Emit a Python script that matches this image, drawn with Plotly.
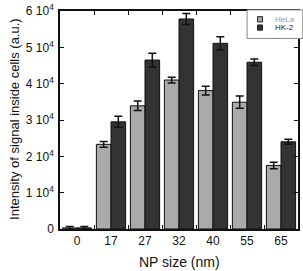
import plotly.graph_objects as go

categories = ["0", "17", "27", "32", "40", "55", "65"]
hela = [300, 23300, 33900, 41000, 38100, 34900, 17500]
hela_err = [400, 800, 1300, 800, 1200, 1700, 900]
hk2 = [300, 29500, 46500, 57800, 51100, 45900, 24000]
hk2_err = [400, 1500, 1900, 1500, 1800, 900, 700]
ytick_vals = [0, 10000, 20000, 30000, 40000, 50000, 60000]
ytick_text = ["0", "1 10<sup>4</sup>", "2 10<sup>4</sup>", "3 10<sup>4</sup>",
              "4 10<sup>4</sup>", "5 10<sup>4</sup>", "6 10<sup>4</sup>"]
series_names = ["HeLa", "HK-2"]
series_colors = ["#aaaaaa", "#333333"]
legend_text_colors = ["#999999", "#222222"]
x_title = "NP size (nm)"
y_title = "Intensity of signal inside cells (a.u.)"

fig = go.Figure()
fig.add_trace(go.Bar(
    x=categories, y=hela, name=series_names[0],
    marker=dict(color=series_colors[0], line=dict(color="#111111", width=1)),
    error_y=dict(type="data", array=hela_err, color="#111111", thickness=1.5, width=4),
))
fig.add_trace(go.Bar(
    x=categories, y=hk2, name=series_names[1],
    marker=dict(color=series_colors[1], line=dict(color="#111111", width=1)),
    error_y=dict(type="data", array=hk2_err, color="#111111", thickness=1.5, width=4),
))

# manual compact legend (paper coordinates)
shapes = [dict(type="rect", xref="paper", yref="paper", x0=0.786, x1=1.02, y0=0.874, y1=1.005,
               fillcolor="white", line=dict(color="#888888", width=1), layer="above")]
annotations = []
legend_rows_y = [0.962, 0.924]
for name, col, tcol, yy in zip(series_names, series_colors, legend_text_colors, legend_rows_y):
    shapes.append(dict(type="rect", xref="paper", yref="paper", x0=0.830, x1=0.851,
                       y0=yy - 0.012, y1=yy + 0.012, fillcolor=col,
                       line=dict(color="#222222", width=1), layer="above"))
    annotations.append(dict(xref="paper", yref="paper", x=0.893, y=yy, text=name,
                            showarrow=False, xanchor="left", yanchor="middle",
                            font=dict(size=8, color=tcol)))

# axis titles as annotations for exact placement
annotations.append(dict(xref="paper", yref="paper", x=0.5, y=-0.151, text=x_title,
                        showarrow=False, xanchor="center", yanchor="middle",
                        font=dict(size=14, color="#111111")))
annotations.append(dict(xref="paper", yref="paper", x=-0.189, y=0.505, text=y_title,
                        showarrow=False, xanchor="center", yanchor="middle", textangle=-90,
                        font=dict(size=13, color="#111111")))

fig.update_layout(
    width=303, height=271,
    margin=dict(l=60, r=5, t=11, b=42),
    paper_bgcolor="white", plot_bgcolor="white",
    barmode="group", bargap=0.14, bargroupgap=0.0,
    font=dict(family="Liberation Sans, Arial, sans-serif", size=12, color="#111111"),
    showlegend=False,
    shapes=shapes, annotations=annotations,
)
fig.update_xaxes(
    automargin=False,
    showline=True, linecolor="#111111", linewidth=1.5, mirror="ticks",
    ticks="inside", ticklen=4, tickson="boundaries", tickcolor="#111111",
    tickfont=dict(size=12),
)
fig.update_yaxes(
    automargin=False,
    range=[0, 60000], tickvals=ytick_vals, ticktext=ytick_text,
    showline=True, linecolor="#111111", linewidth=1.5, mirror="ticks",
    ticks="inside", ticklen=4, tickcolor="#111111", showgrid=False, zeroline=False,
    tickfont=dict(size=12), ticklabelstandoff=2,
)

fig.write_html("out.html", config={"displayModeBar": False},
               post_script="document.body.style.margin='0';document.body.style.padding='0';")
